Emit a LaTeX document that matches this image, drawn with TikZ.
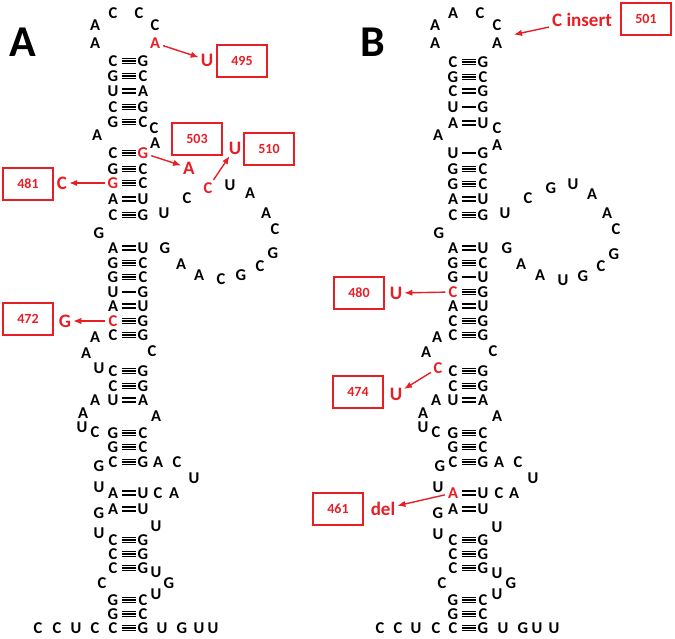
\documentclass[tikz,border=0pt]{standalone}
\usepackage{fontspec}
\setmainfont{Carlito}
\usepackage{tikz}
\usetikzlibrary{arrows.meta}
\definecolor{mutred}{RGB}{232,30,37}
\newcommand{\redl}{\color{mutred}}

\begin{document}
\begin{tikzpicture}[
  x=1pt, y=-1pt,
  nt/.style={inner sep=0pt, font=\bfseries\fontsize{16.5}{16.5}\selectfont},
  sub/.style={inner sep=0pt, text=mutred, font=\bfseries\fontsize{19}{19}\selectfont},
  numbox/.style={draw=mutred, line width=1.2pt, text=mutred, inner sep=0pt, minimum width=50pt, minimum height=32pt, font=\bfseries\fontsize{14}{14}\selectfont},
  panel/.style={inner sep=0pt, font=\bfseries\fontsize{44}{44}\selectfont},
  bond/.style={line width=1.6pt},
  mutarrow/.style={draw=mutred, line width=1.4pt, -{Latex[length=8pt,width=6.5pt]}, shorten <=3pt, shorten >=2pt}
]
\useasboundingbox (0,0) rectangle (675,639);

\node[panel] (panA) at (23,42) {A};
\node[panel] (panB) at (373,42) {B};

\foreach \y/\l/\r/\b in {61/C/G/3, 76/G/C/3, 91/U/A/2, 107/C/G/3, 122/G/C/3,
    153/C/\redl G/3, 169/G/C/3, 183/\redl G/C/3, 199/A/U/2, 215/C/G/3,
    248/A/U/2, 263/G/C/3, 277/G/C/3, 292/U/G/1, 306/A/U/2, 321/\redl C/G/3, 335/C/G/3,
    371/C/G/3, 386/C/G/3, 400/U/A/2, 433/G/C/3, 447/G/C/3, 462/C/G/3,
    493/A/U/2, 509/A/U/2, 540/C/G/3, 554/C/G/3, 568/C/G/3,
    600/G/C/3, 614/G/C/3, 628/C/G/3}{
  \node[nt] (aL\y) at (113,\y) {\l};
  \node[nt] (aR\y) at (143,\y) {\r};
  \foreach \k in {1,...,\b}{
    \pgfmathsetmacro{\off}{(\k-(\b+1)/2)*(\b==3 ? 2.6 : 3.8)}
    \draw[bond] ([xshift=8.5pt,yshift=\off pt]aL\y.center) -- ([xshift=-7.5pt,yshift=\off pt]aR\y.center);
  }
}

\foreach \y/\l/\r/\b in {62/C/G/3, 77/G/C/3, 91/C/G/2, 107/U/G/1, 123/A/U/2,
    153/U/G/1, 169/G/C/3, 184/G/C/3, 199/A/U/2, 215/C/G/3,
    248/A/U/2, 263/G/C/3, 277/G/U/1, 292/\redl C/G/3, 306/A/U/2, 321/C/G/3, 335/C/G/3,
    371/C/G/3, 386/C/G/3, 400/U/A/2, 433/G/C/3, 447/G/C/3, 462/C/G/3,
    493/\redl A/U/2, 509/A/U/2, 540/C/G/3, 554/C/G/3, 568/C/G/3,
    600/G/C/3, 614/G/C/3, 628/C/G/3}{
  \node[nt] (bL\y) at (453,\y) {\l};
  \node[nt] (bR\y) at (483,\y) {\r};
  \foreach \k in {1,...,\b}{
    \pgfmathsetmacro{\off}{(\k-(\b+1)/2)*(\b==3 ? 2.6 : 3.8)}
    \draw[bond] ([xshift=8.5pt,yshift=\off pt]bL\y.center) -- ([xshift=-7.5pt,yshift=\off pt]bR\y.center);
  }
}

\foreach \x/\y/\t [count=\i] in {95/43/A, 95/25/A, 113/13/C, 139/13/C, 155/25/C,
    154/128/C, 155/143/A, 97/135/A,
    164/213/U, 187/198/C, 230/185/U, 250/193/A, 266/213/A, 275/229/C, 273/253/G,
    260/266/C, 241/275/G, 221/279/C, 199/275/A, 181/264/A, 165/248/G, 99/233/G,
    95/337/A, 86/353/A, 99/368/U, 152/351/C,
    95/400/A, 83/413/A, 82/427/U, 95/432/C, 156/416/A,
    99/466/G, 158/462/A, 177/462/C, 194/478/U, 174/493/A, 158/493/C, 99/487/U,
    99/513/G, 99/533/U, 156/526/U, 156/572/U, 169/583/G, 156/594/U, 102/583/C,
    38/628/C, 57/628/C, 76/628/U, 95/628/C, 162/628/U, 182/628/G, 199/628/U, 213/628/U}
  \node[nt] (aU\i) at (\x,\y) {\t};

\foreach \x/\y/\t [count=\i] in {435/43/A, 435/25/A, 453/13/A, 480/13/C, 497/25/C, 497/43/A,
    497/128/C, 497/145/A, 438/135/A,
    505/213/U, 528/198/C, 551/188/G, 573/184/U, 592/194/A, 607/213/A, 616/229/C,
    614/254/G, 601/266/C, 583/276/G, 563/280/U, 540/275/A, 521/264/A, 507/248/G, 439/233/G,
    437/337/A, 426/352/A, 493/351/C,
    436/400/A, 423/413/A, 423/427/U, 436/432/C, 497/416/A,
    440/466/G, 499/462/A, 518/462/C, 533/478/U, 514/493/A, 499/493/C, 438/487/U,
    438/513/G, 438/534/U, 497/527/U, 497/573/U, 511/583/G, 497/594/U, 442/583/C,
    380/628/C, 398/628/C, 416/628/U, 436/628/C, 503/628/U, 523/628/G, 537/628/U, 554/628/U}
  \node[nt] (bU\i) at (\x,\y) {\t};

\node[nt, text=mutred] (a495) at (155,43) {A};
\node[nt, text=mutred] (a510) at (208,188) {C};
\node[nt, text=mutred] (b474) at (438,368) {C};

\node[sub] (s495) at (207,60) {U};
\node[sub] (s503) at (189,168) {A};
\node[sub] (s510) at (235,148) {U};
\node[sub] (s481) at (62,183) {C};
\node[sub] (s472) at (65,321) {G};
\node[sub] (cins) at (582,20) {C insert};
\coordinate (cinsend) at (512,35);
\node[sub] (s480) at (396,293) {U};
\node[sub] (s474) at (396,394) {U};
\node[sub] (s461) at (383,509) {del};

\node[numbox] (n495) at (242,61) {495};
\node[numbox] (n503) at (197,139) {503};
\node[numbox] (n510) at (269,149) {510};
\node[numbox] (n481) at (28,184) {481};
\node[numbox] (n472) at (28,319) {472};
\node[numbox] (n501) at (646,19) {501};
\node[numbox] (n480) at (359,293) {480};
\node[numbox] (n474) at (358,392) {474};
\node[numbox] (n461) at (338,509) {461};

\draw[mutarrow] (a495) -- (s495);
\draw[mutarrow] (aR153) -- (s503);
\draw[mutarrow] (a510) -- (s510);
\draw[mutarrow] (aL183) -- (s481);
\draw[mutarrow] (aL321) -- (s472);
\draw[mutarrow] (cins) -- (cinsend);
\draw[mutarrow] (bL292) -- (s480);
\draw[mutarrow] (b474) -- (s474);
\draw[mutarrow] (bL493) -- (s461);
\end{tikzpicture}
\end{document}
